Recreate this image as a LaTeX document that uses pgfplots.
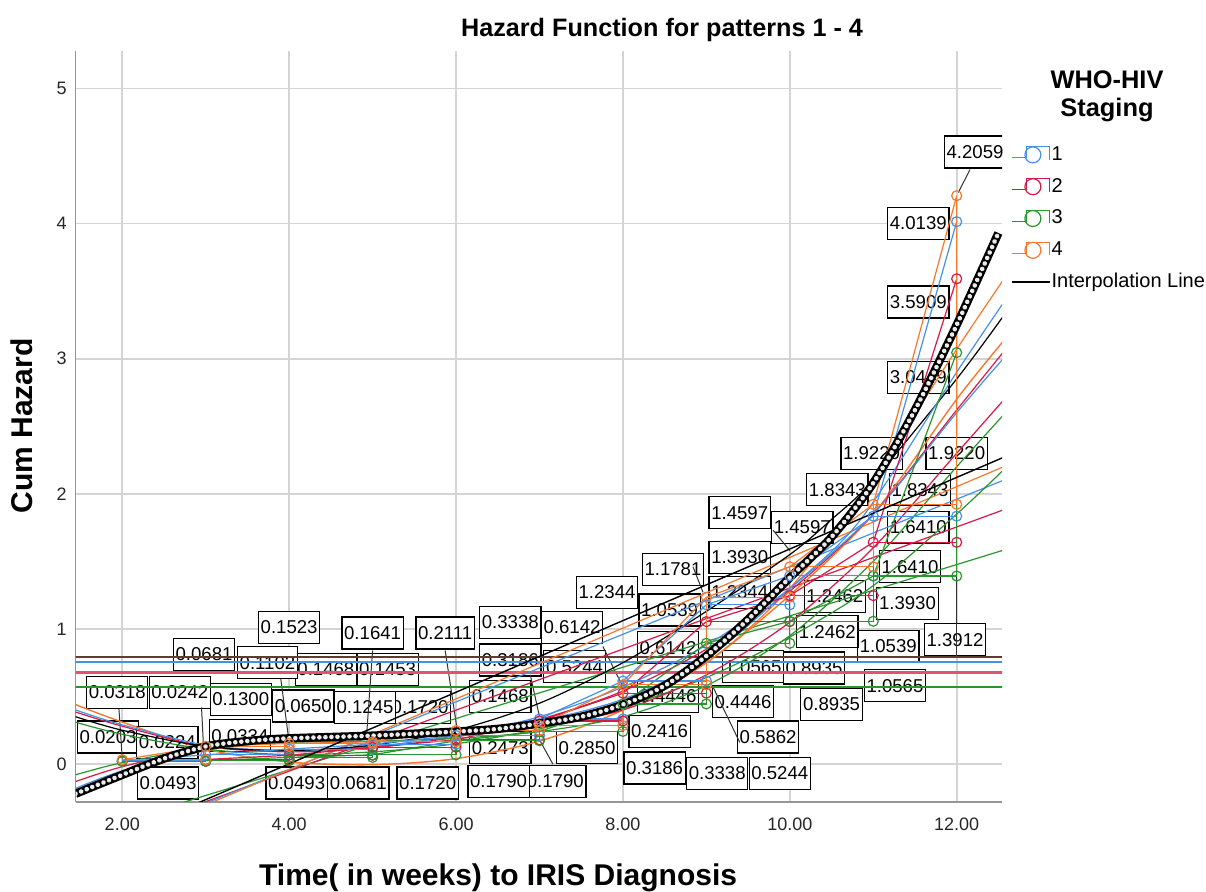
\documentclass[border=0pt]{standalone}
\usepackage{fontspec}
\setmainfont{Liberation Sans}
\usepackage{pgfplots}
\pgfplotsset{compat=1.18}

\definecolor{cblue}{RGB}{70,145,230}
\definecolor{cred}{RGB}{215,25,70}
\definecolor{cgreen}{RGB}{40,150,45}
\definecolor{corange}{RGB}{245,120,45}
\definecolor{cbrown}{RGB}{95,60,50}
\definecolor{gridc}{RGB}{212,212,212}
\definecolor{axisc}{RGB}{150,150,150}

\tikzset{lab/.style={draw=black, line width=0.6pt, fill=white, font=\fontsize{9.3}{10}\selectfont, inner xsep=1.1pt, inner ysep=0pt, minimum height=16pt},
  lead/.style={draw=black!80, line width=0.5pt}}

\begin{document}
\begin{tikzpicture}
\path[use as bounding box] (0,0) rectangle (603pt,446pt);
\begin{axis}[
  at={(37.85pt,45pt)}, anchor=south west,
  scale only axis, width=463.15pt, height=375.5pt,
  xmin=1.442, xmax=12.543, ymin=-0.281, ymax=5.277,
  axis lines*=left, axis line style={draw=axisc, line width=0.8pt},
  xtick={2,4,6,8,10,12}, xticklabels={2.00,4.00,6.00,8.00,10.00,12.00},
  ytick={0,1,2,3,4,5}, yticklabels={0,1,2,3,4,5},
  tick style={draw=none},
  grid=major, major grid style={draw=gridc, line width=0.9pt},
  tick label style={font=\fontsize{9}{10}\selectfont, text=black!85},
  xticklabel style={yshift=-4.5pt},
  yticklabel style={xshift=-1pt},
  title={Hazard Function for patterns 1 - 4},
  title style={at={(axis description cs:0.633,1.0306)}, anchor=center, yshift=-7pt, font=\fontsize{12.6}{14}\selectfont\bfseries},
  xlabel={Time( in weeks) to IRIS Diagnosis},
  xlabel style={at={(axis description cs:0.456,-0.101)}, anchor=center, font=\fontsize{15}{17}\selectfont\bfseries},
  ylabel={Cum Hazard},
  ylabel style={at={(axis description cs:-0.058,0.5007)}, anchor=center, font=\fontsize{15}{17}\selectfont\bfseries},
  legend style={at={(axis description cs:1.003,0.8815)}, anchor=north west, draw=none, fill=none,
    font=\fontsize{10}{12}\selectfont, row sep=5.4pt,
    nodes={inner sep=0.5pt, text height=7.5pt, text depth=2pt}},
  legend cell align=left,
]

% ---------- value labels ----------
\node[lab] at (axis cs:12.22,4.53) {4.2059};
\node[lab] at (axis cs:11.54,4.00) {4.0139};
\node[lab] at (axis cs:11.54,3.42) {3.5909};
\node[lab] at (axis cs:11.54,2.86) {3.0449};
\node[lab] at (axis cs:10.98,2.30) {1.9220};
\node[lab] at (axis cs:12.00,2.30) {1.9220};
\node[lab] at (axis cs:10.57,2.03) {1.8343};
\node[lab] at (axis cs:11.56,2.03) {1.8343};
\node[lab] at (axis cs:11.54,1.75) {1.6410};
\node[lab] at (axis cs:11.44,1.46) {1.6410};
\node[lab] at (axis cs:11.41,1.19) {1.3930};
\node[lab] at (axis cs:11.18,0.87) {1.0539};
\node[lab] at (axis cs:11.26,0.58) {1.0565};
\node[lab] at (axis cs:11.98,0.92) {1.3912};
\node[lab] at (axis cs:9.40,1.86) {1.4597};
\node[lab] at (axis cs:10.15,1.75) {1.4597};
\node[lab] at (axis cs:9.40,1.53) {1.3930};
\node[lab] at (axis cs:9.40,1.27) {1.2344};
\node[lab] at (axis cs:10.54,1.24) {1.2462};
\node[lab] at (axis cs:10.45,0.98) {1.2462};
\node[lab] at (axis cs:10.29,0.71) {0.8935};
\node[lab] at (axis cs:10.50,0.44) {0.8935};
\node[lab] at (axis cs:9.56,0.72) {1.0565};
\node[lab] at (axis cs:9.44,0.46) {0.4446};
\node[lab] at (axis cs:9.74,0.20) {0.5862};
\node[lab] at (axis cs:9.88,-0.07) {0.5244};
\node[lab] at (axis cs:9.13,-0.07) {0.3338};
\node[lab] at (axis cs:8.38,-0.03) {0.3186};
\node[lab] at (axis cs:8.44,0.24) {0.2416};
\node[lab] at (axis cs:8.54,0.50) {0.4446};
\node[lab] at (axis cs:8.54,0.86) {0.6142};
\node[lab] at (axis cs:8.56,1.14) {1.0539};
\node[lab] at (axis cs:8.60,1.44) {1.1781};
\node[lab] at (axis cs:7.81,1.27) {1.2344};
\node[lab] at (axis cs:7.39,1.01) {0.6142};
\node[lab] at (axis cs:7.42,0.72) {0.5244};
\node[lab] at (axis cs:7.57,0.12) {0.2850};
\node[lab] at (axis cs:7.19,-0.13) {0.1790};
\node[lab] at (axis cs:6.51,-0.13) {0.1790};
\node[lab] at (axis cs:6.65,1.05) {0.3338};
\node[lab] at (axis cs:6.65,0.77) {0.3186};
\node[lab] at (axis cs:6.53,0.12) {0.2473};
\node[lab] at (axis cs:6.53,0.50) {0.1468};
\node[lab] at (axis cs:5.87,0.97) {0.2111};
\node[lab] at (axis cs:5.57,0.42) {0.1720};
\node[lab] at (axis cs:5.66,-0.14) {0.1720};
\node[lab] at (axis cs:5.00,0.97) {0.1641};
\node[lab] at (axis cs:5.18,0.70) {0.1453};
\node[lab] at (axis cs:4.44,0.70) {0.1468};
\node[lab] at (axis cs:4.91,0.42) {0.1245};
\node[lab] at (axis cs:4.83,-0.14) {0.0681};
\node[lab] at (axis cs:4.00,1.01) {0.1523};
\node[lab] at (axis cs:3.74,0.75) {0.1102};
\node[lab] at (axis cs:4.17,0.43) {0.0650};
\node[lab] at (axis cs:4.09,-0.14) {0.0493};
\node[lab] at (axis cs:2.98,0.81) {0.0681};
\node[lab] at (axis cs:3.42,0.48) {0.1300};
\node[lab] at (axis cs:3.41,0.21) {0.0334};
\node[lab] at (axis cs:1.94,0.53) {0.0318};
\node[lab] at (axis cs:2.69,0.53) {0.0242};
\node[lab] at (axis cs:1.83,0.20) {0.0203};
\node[lab] at (axis cs:2.54,0.16) {0.0224};
\node[lab] at (axis cs:2.55,-0.14) {0.0493};

% ---------- leader lines ----------
\draw[lead] (axis cs:12.16,4.40) -- (axis cs:12.02,4.23);
\draw[lead] (axis cs:1.96,0.41) -- (axis cs:2.0,0.04);
\draw[lead] (axis cs:2.95,0.42) -- (axis cs:2.98,0.05);
\draw[lead] (axis cs:5.87,0.84) -- (axis cs:6.01,0.27);
\draw[lead] (axis cs:5.0,0.84) -- (axis cs:4.93,0.23);
\draw[lead] (axis cs:3.9,0.63) -- (axis cs:4.0,0.16);
\draw[lead] (axis cs:7.76,0.87) -- (axis cs:8.0,0.57);
\draw[lead] (axis cs:6.89,0.66) -- (axis cs:7.0,0.35);
\draw[lead] (axis cs:7.0,0.18) -- (axis cs:7.16,0.0);
\draw[lead] (axis cs:9.08,0.57) -- (axis cs:9.4,0.16);
\draw[lead] (axis cs:9.8,1.73) -- (axis cs:10.0,1.58);
\draw[lead] (axis cs:8.84,1.46) -- (axis cs:8.96,1.27);
\draw[lead] (axis cs:12.0,0.8) -- (axis cs:12.0,1.39);

% ---------- horizontal mean lines ----------
\addplot[forget plot, cbrown, line width=0.8pt] coordinates {(1.3,0.792) (12.7,0.792)};
\addplot[forget plot, cblue, line width=0.8pt] coordinates {(1.3,0.757) (12.7,0.757)};
\addplot[forget plot, cred!75, line width=1.5pt] coordinates {(1.3,0.676) (12.7,0.676)};
\addplot[forget plot, cgreen, line width=0.8pt] coordinates {(1.3,0.572) (12.7,0.572)};

% ---------- straight (linear) fit lines ----------
\addplot[forget plot, cgreen, line width=0.6pt] coordinates {(2.7,-0.29) (12.6,1.59)};
\addplot[forget plot, cred, line width=0.6pt] coordinates {(2.95,-0.29) (12.6,1.89)};
\addplot[forget plot, cblue, line width=0.6pt] coordinates {(3.0,-0.29) (12.6,2.11)};
\addplot[forget plot, corange, line width=0.6pt] coordinates {(3.05,-0.29) (12.6,2.21)};

% ---------- bowl-shaped fits ----------
\addplot[forget plot, smooth, corange, line width=0.7pt] coordinates {(1.44,0.44) (2,0.31) (3,0.11) (4,0.015) (5,-0.005) (6,0.04) (7,0.17) (8,0.40) (9,0.75) (10,1.25) (11,1.85) (12,2.7) (12.6,3.16)};
\addplot[forget plot, smooth, cred, line width=0.6pt] coordinates {(1.44,0.385) (2,0.28) (3,0.13) (4,0.09) (5,0.12) (6,0.2) (7,0.33) (8,0.54) (9,0.85) (10,1.28) (11,1.85) (12,2.62) (12.6,3.08)};
\addplot[forget plot, smooth, cblue, line width=0.6pt] coordinates {(1.44,0.40) (2,0.29) (3,0.14) (4,0.10) (5,0.13) (6,0.21) (7,0.35) (8,0.57) (9,0.88) (10,1.3) (11,1.85) (12,2.6) (12.6,3.03)};
\addplot[forget plot, smooth, cgreen, line width=0.6pt] coordinates {(1.44,0.31) (2,0.22) (3,0.11) (4,0.07) (5,0.09) (6,0.15) (7,0.26) (8,0.42) (9,0.64) (10,0.94) (11,1.32) (12,1.85) (12.6,2.2)};
\addplot[forget plot, smooth, black, line width=0.6pt] coordinates {(1.44,0.35) (2,0.25) (3,0.13) (4,0.10) (5,0.14) (6,0.25) (7,0.45) (8,0.75) (9,1.13) (10,1.55) (10.5,1.81) (11,2.1) (12,2.85) (12.6,3.35)};

% ---------- S-shaped fits ----------
\addplot[forget plot, smooth, corange, line width=0.6pt] coordinates {(1.44,-0.2) (2,-0.07) (3,0.1) (4,0.17) (5,0.2) (6,0.23) (7,0.3) (8,0.45) (9,0.75) (10,1.3) (11,2.12) (12,3.07) (12.6,3.62)};
\addplot[forget plot, smooth, cblue, line width=0.6pt] coordinates {(1.44,-0.18) (2,-0.05) (3,0.12) (4,0.18) (5,0.2) (6,0.24) (7,0.32) (8,0.48) (9,0.78) (10,1.3) (10.85,1.81) (12,2.9) (12.6,3.45)};
\addplot[forget plot, smooth, cred, line width=0.6pt] coordinates {(1.44,-0.13) (2,-0.02) (3,0.12) (4,0.17) (5,0.19) (6,0.22) (7,0.28) (8,0.40) (9,0.66) (10,1.05) (11,1.6) (12,2.3) (12.6,2.72)};
\addplot[forget plot, smooth, cgreen, line width=0.6pt] coordinates {(1.44,-0.08) (2,0.01) (3,0.12) (4,0.16) (5,0.17) (6,0.19) (7,0.24) (8,0.35) (9,0.58) (10,0.95) (11,1.5) (12,2.2) (12.6,2.61)};

% ---------- joined values ----------
\addplot[forget plot, cblue, line width=0.6pt] coordinates {(2,0.0224) (3,0.0681) (4,0.1102) (5,0.1468) (6,0.2111) (7,0.3338) (8,0.6142) (9,1.1781) (10,1.3930) (11,1.8343) (12,4.0139)};
\addplot[forget plot, cred, line width=0.6pt] coordinates {(2,0.0203) (3,0.0334) (4,0.0650) (5,0.1245) (6,0.1790) (7,0.3186) (8,0.5244) (9,1.0539) (10,1.2462) (11,1.6410) (12,3.5909)};
\addplot[forget plot, cgreen, line width=0.6pt] coordinates {(2,0.0203) (3,0.0242) (4,0.0493) (5,0.0681) (6,0.1720) (7,0.2416) (8,0.4446) (9,0.8935) (10,1.0565) (11,1.3912) (12,3.0449)};
\addplot[forget plot, corange, line width=0.6pt] coordinates {(2,0.0318) (3,0.1300) (4,0.1523) (5,0.1641) (6,0.2473) (7,0.2850) (8,0.5862) (9,1.2344) (10,1.4597) (11,1.9220) (12,4.2059)};

% ---------- step functions with circles ----------
\addplot[cblue, line width=0.6pt, const plot, mark=o, mark size=2.5pt, mark options={line width=0.6pt},
  legend image code/.code={\draw[cblue,line width=0.6pt] (0pt,-1.5pt)--(7.5pt,-1.5pt)--(7.5pt,4pt)--(19pt,4pt)--(19pt,-2.5pt); \draw[cblue,line width=0.6pt] (10.5pt,0pt) circle (4pt);}]
 coordinates {(2,0.0224)(3,0.0224)(3,0.0681)(4,0.0681)(4,0.1102)(5,0.1102)(5,0.1468)(6,0.1468)(6,0.2111)(7,0.2111)(7,0.3338)(8,0.3338)(8,0.6142)(9,0.6142)(9,1.1781)(10,1.1781)(10,1.3930)(11,1.3930)(11,1.8343)(12,1.8343)(12,4.0139)};
\addlegendentry{1}
\addplot[cred, line width=0.6pt, const plot, mark=o, mark size=2.5pt, mark options={line width=0.6pt},
  legend image code/.code={\draw[cred,line width=0.6pt] (0pt,-1.5pt)--(7.5pt,-1.5pt)--(7.5pt,4pt)--(19pt,4pt)--(19pt,-2.5pt); \draw[cred,line width=0.6pt] (10.5pt,0pt) circle (4pt);}]
 coordinates {(2,0.0203)(3,0.0203)(3,0.0334)(4,0.0334)(4,0.0650)(5,0.0650)(5,0.1245)(6,0.1245)(6,0.1790)(7,0.1790)(7,0.3186)(8,0.3186)(8,0.5244)(9,0.5244)(9,1.0539)(10,1.0539)(10,1.2462)(11,1.2462)(11,1.6410)(12,1.6410)(12,3.5909)};
\addlegendentry{2}
\addplot[cgreen, line width=0.6pt, const plot, mark=o, mark size=2.5pt, mark options={line width=0.6pt},
  legend image code/.code={\draw[cgreen,line width=0.6pt] (0pt,-1.5pt)--(7.5pt,-1.5pt)--(7.5pt,4pt)--(19pt,4pt)--(19pt,-2.5pt); \draw[cgreen,line width=0.6pt] (10.5pt,0pt) circle (4pt);}]
 coordinates {(2,0.0203)(3,0.0203)(3,0.0242)(4,0.0242)(4,0.0493)(5,0.0493)(5,0.0681)(6,0.0681)(6,0.1720)(7,0.1720)(7,0.2416)(8,0.2416)(8,0.4446)(9,0.4446)(9,0.8935)(10,0.8935)(10,1.0565)(11,1.0565)(11,1.3912)(12,1.3912)(12,3.0449)};
\addlegendentry{3}
\addplot[corange, line width=0.6pt, const plot, mark=o, mark size=2.5pt, mark options={line width=0.6pt},
  legend image code/.code={\draw[corange,line width=0.6pt] (0pt,-1.5pt)--(7.5pt,-1.5pt)--(7.5pt,4pt)--(19pt,4pt)--(19pt,-2.5pt); \draw[corange,line width=0.6pt] (10.5pt,0pt) circle (4pt);}]
 coordinates {(2,0.0318)(3,0.0318)(3,0.1300)(4,0.1300)(4,0.1523)(5,0.1523)(5,0.1641)(6,0.1641)(6,0.2473)(7,0.2473)(7,0.2850)(8,0.2850)(8,0.5862)(9,0.5862)(9,1.2344)(10,1.2344)(10,1.4597)(11,1.4597)(11,1.9220)(12,1.9220)(12,4.2059)};
\addlegendentry{4}

% ---------- black linear fit (interpolation line) ----------
\addplot[black, line width=0.7pt,
  legend image code/.code={\draw[black,line width=0.7pt] (0pt,0pt)--(19pt,0pt);}]
 coordinates {(2.9,-0.29) (12.6,2.28)};
\addlegendentry{Interpolation Line}

% ---------- black chain-of-circles curve ----------
\addplot[forget plot, smooth, black, line width=4.2pt]
 coordinates {(1.44,-0.22) (2,-0.08) (2.5,0.04) (3,0.13) (3.5,0.17) (4,0.19) (5,0.21) (6,0.24) (6.5,0.26) (7,0.30) (7.5,0.35) (8,0.44) (8.5,0.58) (9,0.80) (9.5,1.07) (10,1.38) (10.5,1.68) (11,2.08) (11.5,2.62) (12,3.25) (12.5,3.93)};
\addplot[forget plot, smooth, white!92!black, line width=2.3pt, line cap=round, dash pattern=on 0.01pt off 3.0pt]
 coordinates {(1.44,-0.22) (2,-0.08) (2.5,0.04) (3,0.13) (3.5,0.17) (4,0.19) (5,0.21) (6,0.24) (6.5,0.26) (7,0.30) (7.5,0.35) (8,0.44) (8.5,0.58) (9,0.80) (9.5,1.07) (10,1.38) (10.5,1.68) (11,2.08) (11.5,2.62) (12,3.25) (12.5,3.93)};
\end{axis}

% ---------- legend title ----------
\node[align=center, font=\fontsize{12.7}{14}\selectfont\bfseries, anchor=center] at (553.5pt,398pt) {WHO-HIV\\Staging};
\end{tikzpicture}
\end{document}
